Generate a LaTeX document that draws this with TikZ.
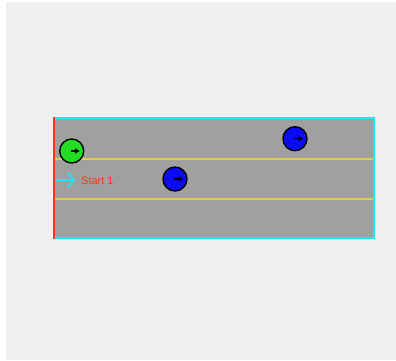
\documentclass[tikz,border=0pt]{standalone}
\usepackage{fontspec}
\setmainfont{Liberation Sans}
\usetikzlibrary{arrows.meta}
\definecolor{canvas}{HTML}{F0F0F0}
\definecolor{asphalt}{HTML}{A0A0A0}
\definecolor{edgecyan}{HTML}{22E5F0}
\definecolor{laneyellow}{HTML}{E0D040}
\definecolor{startred}{HTML}{F03A1E}
\definecolor{carblue}{HTML}{0A0AF5}
\definecolor{cargreen}{HTML}{22DD22}
\tikzset{
  car/.style={circle, draw=black, line width=1.4pt, minimum size=24pt, inner sep=0pt},
  heading/.style={-{Triangle[length=4.5pt,width=5pt]}, black, line width=1.3pt},
  lane/.style={laneyellow, line width=2pt},
  border/.style={edgecyan, line width=2.2pt},
}
\begin{document}
\begin{tikzpicture}[x=1pt,y=-1pt]
  \useasboundingbox (0,0) rectangle (396,360);
  \fill[white] (0,0) rectangle (396,360);
  \fill[canvas] (6,2) rectangle (396,360);
  % track surface
  \fill[asphalt] (54,118) rectangle (374,238);
  \draw[border] (54,118) -- (374,118) -- (374,238) -- (54,238);
  % lane markings
  \coordinate (l1a) at (55,158.7);
  \coordinate (l1b) at (373,158.7);
  \coordinate (l2a) at (55,199);
  \coordinate (l2b) at (373,199);
  \draw[lane] (l1a) -- (l1b);
  \draw[lane] (l2a) -- (l2b);
  % start line
  \draw[startred, line width=2.4pt] (54,117) -- (54,239);
  % start marker
  \coordinate (sa) at (56,180);
  \coordinate (sb) at (75,180);
  \draw[edgecyan, line width=1.8pt, -{Straight Barb[length=6pt,width=15pt,line width=1.8pt]}] (sa) -- (sb);
  \node[anchor=west, text=startred, font=\fontsize{11}{13}\selectfont, inner sep=0pt] (start) at (81,180.5) {Start 1};
  % cars
  \node[car, fill=cargreen] (g) at (71.7,151) {};
  \node[car, fill=carblue] (b1) at (175,179) {};
  \node[car, fill=carblue] (b2) at (295,138.7) {};
  \foreach \c in {g,b1,b2} {
    \draw[heading] ([xshift=-1pt]\c.center) -- ++(9,0);
  }
\end{tikzpicture}
\end{document}
